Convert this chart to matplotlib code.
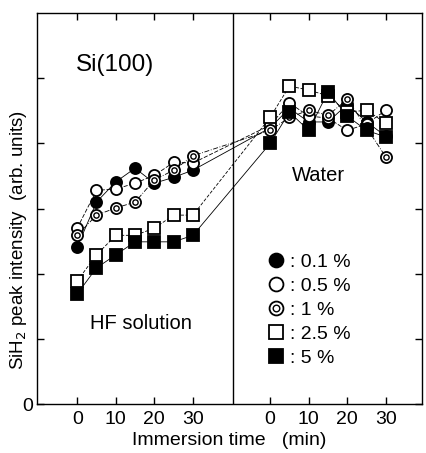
import numpy as np
import matplotlib.pyplot as plt

plt.rcParams['font.family'] = ['Liberation Sans', 'DejaVu Sans']

# immersion times (min), same grid for both solutions
times = [0, 5, 10, 15, 20, 25, 30]
water_offset = 50  # water series is placed to the right of the HF series

# SiH2 peak intensity (arb. units) in HF solution
hf_01 = [2.41, 3.10, 3.41, 3.62, 3.39, 3.48, 3.59]
hf_05 = [2.70, 3.28, 3.30, 3.39, 3.51, 3.71, 3.70]
hf_1 = [2.59, 2.90, 3.01, 3.10, 3.44, 3.59, 3.81]
hf_25 = [1.89, 2.29, 2.59, 2.59, 2.70, 2.90, 2.90]
hf_5 = [1.69, 2.09, 2.29, 2.49, 2.49, 2.49, 2.59]

# ... and after transfer to water
w_01 = [4.24, 4.54, 4.33, 4.33, 4.60, 4.33, 4.11]
w_05 = [4.28, 4.62, 4.42, 4.39, 4.20, 4.30, 4.51]
w_1 = [4.20, 4.40, 4.51, 4.43, 4.68, 4.24, 3.79]
w_25 = [4.40, 4.88, 4.82, 4.73, 4.48, 4.51, 4.31]
w_5 = [4.00, 4.48, 4.20, 4.79, 4.42, 4.20, 4.10]

labels = [': 0.1 %', ': 0.5 %', ': 1 %', ': 2.5 %', ': 5 %']
tick_vals = [0, 10, 20, 30]

x_all = np.array(times + [t + water_offset for t in times])

fig = plt.figure(figsize=(4.26, 4.53), dpi=100)
ax = fig.add_axes([0.087, 0.108, 0.904, 0.863])

ms = 8
mew = 1.3
series = [
    (hf_01, w_01, dict(marker='o', mfc='black', mec='black'), '-'),
    (hf_05, w_05, dict(marker='o', mfc='white', mec='black'), (0, (5, 2))),
    (hf_1, w_1, dict(marker='o', mfc='white', mec='black'), (0, (6, 2, 1, 2))),
    (hf_25, w_25, dict(marker='s', mfc='white', mec='black'), (0, (4, 2))),
    (hf_5, w_5, dict(marker='s', mfc='black', mec='black'), '-'),
]

handles = []
for i, (hf, w, mk, ls) in enumerate(series):
    y = np.array(hf + w)
    ax.plot(x_all, y, color='black', lw=0.6, ls=ls, zorder=2 + i * 0.1)
    h = ax.plot(x_all, y, ls='none', ms=ms, mew=mew, zorder=3 + i * 0.1, **mk)[0]
    if i == 2:
        # 1 % marker: circle with a smaller ring inside
        inner = ax.plot(x_all, y, ls='none', marker='o', ms=3.8, mfc='white',
                        mec='black', mew=1.0, zorder=3.05 + i * 0.1)[0]
        handles.append((h, inner))
    else:
        handles.append(h)

# divider between HF solution and water
ax.axvline(40.3, color='black', lw=1.0)

ax.set_xlim(-10.4, 89.4)
ax.set_ylim(0, 6)
ax.set_xticks(tick_vals + [t + water_offset for t in tick_vals])
ax.set_xticklabels([str(t) for t in tick_vals] * 2, fontsize=14)
ax.set_yticks([0, 1, 2, 3, 4, 5])
ax.set_yticklabels(['0', '', '', '', '', ''], fontsize=14)
ax.tick_params(direction='in', length=5, width=1, top=True, right=True, pad=3)
ax.tick_params(axis='x', pad=5)
for s in ax.spines.values():
    s.set_linewidth(1.0)

ax.text(9.8, 5.2, 'Si(100)', fontsize=17.5, ha='center', va='center')
ax.text(62.4, 3.51, 'Water', fontsize=14.5, ha='center', va='center')
ax.text(16.6, 1.24, 'HF solution', fontsize=14.5, ha='center', va='center')

ax.set_xlabel('Immersion time   (min)', fontsize=14)
ax.xaxis.set_label_coords(0.50, -0.072)
ax.set_ylabel('SiH$_2$ peak intensity  (arb. units)', fontsize=13.5)
ax.yaxis.set_label_coords(-0.022, 0.42)

ax.legend(handles, labels, loc='upper left', bbox_to_anchor=(0.600, 0.385),
          frameon=False, fontsize=14, handlelength=0.8, handletextpad=0.3,
          labelspacing=0.33, borderpad=0.0, borderaxespad=0.0,
          markerscale=1.25)

fig.savefig('out.png', dpi=100)
